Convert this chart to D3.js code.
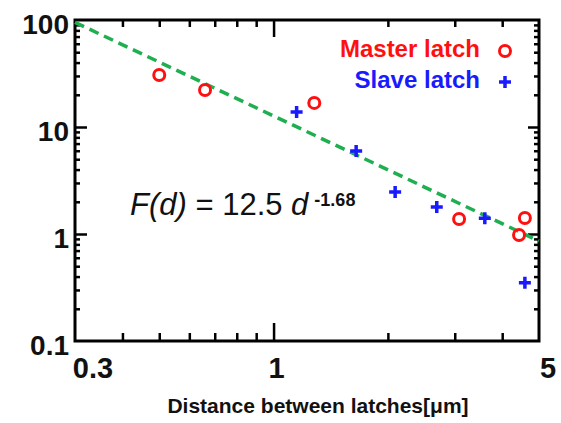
<!DOCTYPE html>
<html>
<head>
<meta charset="utf-8">
<script src="https://cdn.jsdelivr.net/npm/d3@7"></script>
<style>
  body { margin: 0; background: #fff; }
  svg { display: block; font-family: "Liberation Sans", Arial, sans-serif; }
</style>
</head>
<body>
<script>

// Master latch (red circles)
var masterX = [0.50, 0.66, 1.28, 3.08, 4.43, 4.59];
var masterY = [30.6, 22.2, 16.8, 1.38, 0.98, 1.41];

// Slave latch (blue crosses)
var slaveX = [1.15, 1.65, 2.09, 2.69, 3.60, 4.59];
var slaveY = [13.8, 5.97, 2.47, 1.79, 1.40, 0.35];

// fitted line F(d) = 12.5 d^-1.68, end points
var fitX = [0.3, 5];
var fitY = [95, 0.86];

var xTickLabels = ["0.3", "1", "5"];
var yTickLabels = ["0.1", "1", "10", "100"];

const width = 561;
const height = 423;
const marginTop = 20;
const marginRight = 22;
const marginBottom = 82;
const marginLeft = 75;

// Declare the log scales
const x = d3.scaleLog([0.3, 5], [marginLeft, width - marginRight]);
const y = d3.scaleLog([0.1, 100], [height - marginBottom, marginTop]);

const svg = d3.create("svg")
    .attr("width", width)
    .attr("height", height)
    .attr("viewBox", [0, 0, width, height]);

var xMinor = [0.4, 0.5, 0.6, 0.7, 0.8, 0.9, 2, 3, 4];
var yMinor = [];
[0.1, 1, 10].forEach(function(d){
    for (var i = 2; i <= 9; i++) yMinor.push(d * i);
});

// helper to draw ticks of an axis without labels
function ticks(axis, values, size, transform){
    svg.append("g")
        .attr("transform", transform)
        .call(axis.tickValues(values).tickSize(size).tickFormat(""))
        .call(g => g.select(".domain").remove())
        .call(g => g.selectAll(".tick line").attr("stroke", "#000").attr("stroke-width", 2.5));
}

// bottom and top
ticks(d3.axisBottom(x), xMinor, -8, `translate(0,${height - marginBottom})`);
ticks(d3.axisBottom(x), [1], -18, `translate(0,${height - marginBottom})`);
ticks(d3.axisTop(x), xMinor, -7, `translate(0,${marginTop})`);
ticks(d3.axisTop(x), [1], -17, `translate(0,${marginTop})`);
// left and right
ticks(d3.axisLeft(y), yMinor, -5, `translate(${marginLeft},0)`);
ticks(d3.axisLeft(y), [1, 10], -12, `translate(${marginLeft},0)`);
ticks(d3.axisRight(y), yMinor, -5, `translate(${width - marginRight},0)`);
ticks(d3.axisRight(y), [1, 10], -11, `translate(${width - marginRight},0)`);

// frame
svg.append("rect")
    .attr("x", marginLeft)
    .attr("y", marginTop)
    .attr("width", width - marginLeft - marginRight)
    .attr("height", height - marginTop - marginBottom)
    .attr("fill", "none")
    .attr("stroke", "#000")
    .attr("stroke-width", 3);

// tick labels
var xShift = [18, 3, 9];
svg.append("g")
    .selectAll("text")
    .data(xTickLabels)
    .join("text")
    .attr("x", (d, i) => x(+d) + xShift[i])
    .attr("y", 378)
    .attr("text-anchor", "middle")
    .attr("font-size", 29)
    .attr("font-weight", "bold")
    .attr("fill", "#111")
    .text(d => d);

svg.append("g")
    .selectAll("text")
    .data(yTickLabels)
    .join("text")
    .attr("x", 69)
    .attr("y", d => y(+d) + 14)
    .attr("text-anchor", "end")
    .attr("font-size", 28)
    .attr("font-weight", "bold")
    .attr("fill", "#111")
    .text(d => d);

// axis title
svg.append("text")
    .attr("x", 318)
    .attr("y", 413)
    .attr("text-anchor", "middle")
    .attr("font-size", 21)
    .attr("font-weight", "bold")
    .attr("fill", "#111")
    .text("Distance between latches[μm]");

// fit line
const fitLine = d3.line()
    .x(d => x(d[0]))
    .y(d => y(d[1]));

svg.append("path")
    .attr("fill", "none")
    .attr("stroke", "#1fae50")
    .attr("stroke-width", 3.5)
    .attr("stroke-dasharray", "10,6")
    .attr("d", fitLine(d3.zip(fitX, fitY)));

// formula
var formula = svg.append("text")
    .attr("x", 130)
    .attr("y", 215)
    .attr("fill", "#111")
    .attr("font-size", 31);
formula.append("tspan").attr("font-style", "italic").text("F(d)");
formula.append("tspan").text(" = 12.5 ");
formula.append("tspan").attr("font-style", "italic").text("d");
formula.append("tspan")
    .attr("dx", 6)
    .attr("dy", -9)
    .attr("font-size", 18)
    .attr("font-weight", "bold")
    .text("-1.68");

// markers
function cross(g, cx, cy){
    g.append("path")
        .attr("d", `M${cx - 6},${cy}H${cx + 6}M${cx},${cy - 6}V${cy + 6}`)
        .attr("stroke", "#1a1aff")
        .attr("stroke-width", 3.5)
        .attr("fill", "none");
}

svg.append("g")
    .selectAll("circle")
    .data(d3.zip(masterX, masterY))
    .join("circle")
    .attr("cx", d => x(d[0]))
    .attr("cy", d => y(d[1]))
    .attr("r", 5.5)
    .attr("fill", "none")
    .attr("stroke", "#ff1010")
    .attr("stroke-width", 3);

var slaves = svg.append("g");
d3.zip(slaveX, slaveY).forEach(function(d){
    cross(slaves, x(d[0]), y(d[1]));
});

// legend
svg.append("text")
    .attr("x", 480)
    .attr("y", 57)
    .attr("text-anchor", "end")
    .attr("font-size", 24)
    .attr("font-weight", "bold")
    .attr("fill", "#ff1010")
    .text("Master latch");
svg.append("circle")
    .attr("cx", 505)
    .attr("cy", 51)
    .attr("r", 5.5)
    .attr("fill", "none")
    .attr("stroke", "#ff1010")
    .attr("stroke-width", 3);

svg.append("text")
    .attr("x", 480)
    .attr("y", 88)
    .attr("text-anchor", "end")
    .attr("font-size", 24)
    .attr("font-weight", "bold")
    .attr("fill", "#1a1aff")
    .text("Slave latch");
cross(svg, 505, 82);

document.body.appendChild(svg.node());
</script>
</body>
</html>
